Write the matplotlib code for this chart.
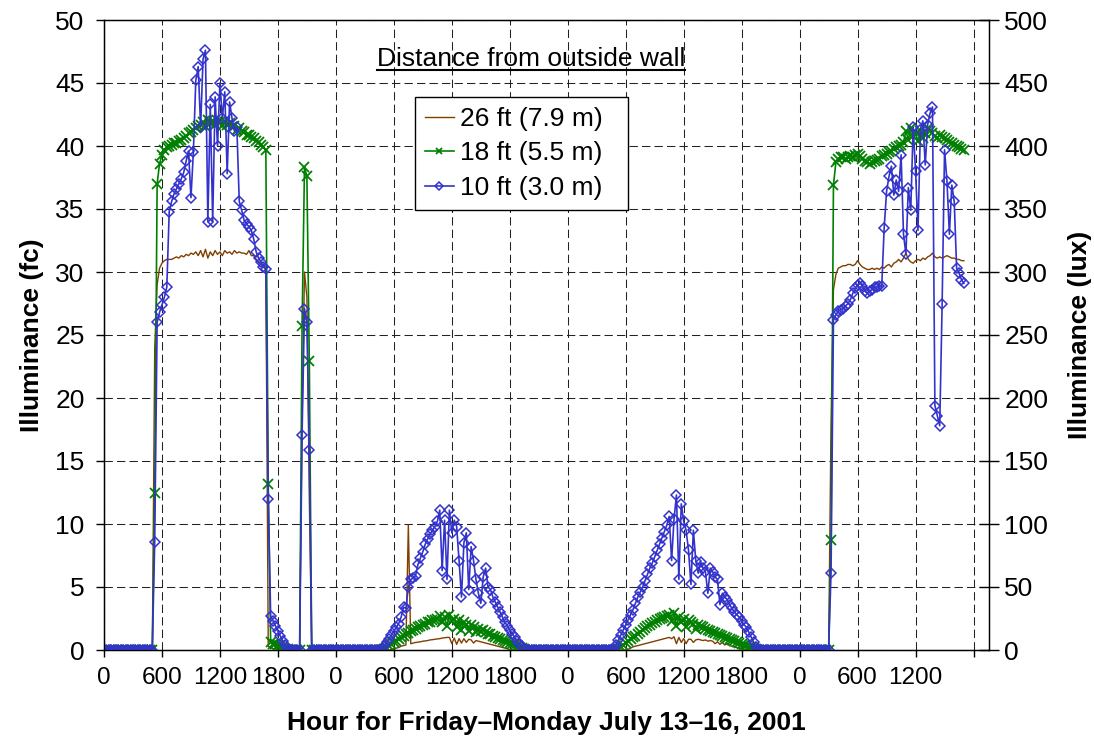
import numpy as np
import matplotlib
matplotlib.use('Agg')
import matplotlib.pyplot as plt
from matplotlib.lines import Line2D

plt.rcParams['font.family'] = ['Liberation Sans', 'DejaVu Sans']

# logger readings every 15 minutes, hour 0 = Friday 00:00
STEP = 0.25
LAST_HOUR = 89.0

# first hour of each stretch of non-zero readings (Fri day, Fri evening blip, Sat, Sun, Mon)
SEG_START = [5.0, 20.25, 28.5, 52.5, 75.0]

# ---- 26 ft (7.9 m), fc
ft26_fri = [0, 24.0, 29.0, 30.3, 30.7, 30.9, 31.0, 31.0,
            31.0, 31.1, 31.2, 31.1, 31.3, 31.2, 31.4, 31.3,
            31.5, 31.4, 31.6, 31.3, 31.7, 31.2, 31.8, 31.1,
            31.6, 31.3, 31.7, 31.4, 31.6, 31.3, 31.7, 31.5,
            31.6, 31.4, 31.7, 31.5, 31.6, 31.5, 31.5, 31.4,
            31.7, 31.3, 31.3, 31.0, 30.8, 30.6, 30.5, 30.4,
            0.3, 0.2, 0.1, 0.1, 0, 0, 0, 0,
            0, 0]
ft26_eve = [0, 18.0, 30.0, 28.0, 12.0, 0]
ft26_sat = [0, 0, 0, 0, 0, 0.05, 0.1, 0.15,
            0.2, 0.3, 0.35, 0.4, 9.9, 0.5, 0.55, 0.6,
            0.62, 0.65, 0.7, 0.72, 0.75, 0.8, 0.82, 0.85,
            0.88, 0.9, 0.95, 0.97, 1.0, 1.0, 0.5, 0.95,
            0.45, 0.9, 0.55, 0.9, 0.6, 0.85, 0.8, 0.55,
            0.75, 0.7, 0.65, 0.6, 0.55, 0.5, 0.45, 0.4,
            0.35, 0.3, 0.25, 0.2, 0.15, 0.1, 0.05, 0,
            0, 0, 0, 0, 0, 0, 0]
ft26_sun = [0, 0, 0, 0, 0, 0, 0, 0.05,
            0.15, 0.25, 0.3, 0.35, 0.4, 0.45, 0.5, 0.55,
            0.6, 0.65, 0.7, 0.75, 0.8, 0.85, 0.9, 0.95,
            1.0, 0.9, 1.05, 0.5, 1.0, 0.6, 0.9, 0.5,
            0.85, 0.85, 0.6, 0.8, 0.85, 0.8, 0.75, 0.8,
            0.7, 0.75, 0.7, 0.5, 0.65, 0.45, 0.6, 0.4,
            0.5, 0.35, 0.3, 0.25, 0.2, 0.15, 0.1, 0.05,
            0, 0, 0, 0, 0, 0, 0]
ft26_mon = [0, 18.0, 28.6, 29.8, 30.3, 30.4, 30.5, 30.5,
            30.6, 30.6, 30.5, 30.6, 30.9, 30.6, 30.4, 30.3,
            30.2, 30.2, 30.3, 30.2, 30.3, 30.2, 30.4, 30.3,
            30.5, 30.6, 30.4, 30.7, 30.8, 31.0, 30.8, 31.1,
            31.5, 31.0, 30.8, 30.7, 30.9, 31.0, 30.9, 31.1,
            31.0, 31.2, 31.3, 31.5, 31.2, 31.1, 31.2, 31.1,
            31.2, 31.3, 31.2, 31.1, 31.1, 31.0, 31.0, 30.9,
            30.9]

# ---- 18 ft (5.5 m), fc
ft18_fri = [0, 12.5, 37.0, 38.6, 39.3, 39.7, 39.9, 40.0,
            40.1, 40.2, 40.2, 40.4, 40.5, 40.6, 40.8, 41.0,
            41.1, 41.3, 41.4, 41.6, 41.7, 41.9, 41.6, 42.1,
            41.8, 42.0, 41.7, 42.0, 41.9, 41.6, 41.9, 41.7,
            41.8, 41.5, 41.6, 41.3, 41.4, 41.2, 41.1, 40.9,
            40.9, 40.7, 40.6, 40.4, 40.3, 40.1, 39.9, 39.7,
            13.2, 0.6, 0.5, 0.5, 0.4, 0.3, 0.2, 0.1,
            0.05, 0]
ft18_eve = [0, 25.7, 38.3, 37.6, 22.9, 0]
ft18_sat = [0, 0, 0.05, 0.15, 0.3, 0.45, 0.6, 0.75,
            0.9, 1.0, 1.15, 1.25, 1.35, 1.5, 1.6, 1.7,
            1.8, 1.9, 2.0, 2.1, 2.2, 2.25, 2.35, 2.4,
            2.5, 2.7, 2.2, 2.6, 1.9, 2.8, 2.3, 2.5,
            1.8, 2.4, 1.6, 2.2, 2.0, 1.5, 2.0, 1.8,
            1.4, 1.7, 1.5, 1.6, 1.4, 1.3, 1.25, 1.1,
            1.05, 0.95, 0.9, 0.8, 0.75, 0.65, 0.55, 0.45,
            0.4, 0.3, 0.2, 0.12, 0.05, 0, 0]
ft18_sun = [0, 0, 0, 0.1, 0.25, 0.4, 0.55, 0.7,
            0.85, 1.0, 1.15, 1.3, 1.45, 1.6, 1.75, 1.9,
            2.0, 2.15, 2.25, 2.35, 2.45, 2.55, 2.6, 2.7,
            2.8, 2.3, 2.9, 1.9, 2.6, 2.2, 2.5, 1.8,
            2.4, 2.2, 2.1, 1.7, 2.0, 1.9, 1.8, 1.7,
            1.6, 1.5, 1.45, 1.35, 1.3, 1.2, 1.1, 1.0,
            0.95, 0.85, 0.8, 0.7, 0.6, 0.55, 0.45, 0.4,
            0.3, 0.25, 0.2, 0.12, 0.06, 0.02, 0]
ft18_mon = [0, 8.7, 36.9, 38.7, 39.0, 39.1, 39.1, 39.0,
            39.1, 39.2, 39.1, 39.3, 39.4, 39.2, 39.0, 38.8,
            38.7, 38.6, 38.7, 38.8, 38.9, 39.0, 39.2, 39.3,
            39.4, 39.5, 39.6, 39.8, 39.9, 40.0, 40.1, 40.3,
            41.2, 40.5, 41.4, 40.8, 41.0, 40.4, 41.2, 40.6,
            41.0, 41.4, 41.2, 41.0, 40.8, 40.6, 40.9, 40.7,
            40.6, 40.5, 40.3, 40.2, 40.1, 40.0, 39.9, 39.8,
            39.7]

# ---- 10 ft (3.0 m), fc
ft10_fri = [0, 8.6, 26.0, 26.8, 27.4, 28.0, 28.8, 34.8,
            35.6, 36.2, 36.6, 37.0, 37.4, 37.9, 38.8, 39.6,
            35.9, 39.5, 45.2, 46.3, 41.5, 46.9, 47.6, 34.0,
            43.3, 34.0, 43.9, 40.0, 45.0, 42.2, 44.3, 37.8,
            43.5, 42.2, 41.2, 41.5, 35.6, 34.9, 34.1, 33.8,
            33.6, 33.3, 32.6, 31.6, 31.1, 30.8, 30.4, 30.2,
            12.0, 2.7, 2.3, 1.9, 1.5, 1.1, 0.7, 0.4,
            0.1, 0]
ft10_eve = [0, 17.1, 27.1, 26.0, 15.9, 0]
ft10_sat = [0, 0.1, 0.3, 0.6, 0.9, 1.2, 1.5, 1.8,
            2.1, 2.6, 3.4, 3.3, 5.0, 5.6, 5.7, 5.9,
            6.8, 7.3, 7.8, 8.4, 8.8, 9.2, 9.5, 9.8,
            10.2, 11.1, 6.3, 10.3, 5.6, 11.1, 9.3, 10.3,
            9.8, 7.1, 4.2, 8.5, 9.3, 4.8, 8.2, 7.1,
            5.6, 4.5, 3.7, 5.8, 6.5, 5.0, 4.8, 4.2,
            3.8, 3.4, 3.0, 2.6, 2.2, 1.9, 1.6, 1.3,
            1.0, 0.7, 0.5, 0.3, 0.1, 0, 0]
ft10_sun = [0, 0.1, 0.4, 0.8, 1.2, 1.6, 2.0, 2.4,
            2.8, 3.2, 3.7, 4.2, 4.6, 5.0, 5.5, 6.0,
            6.5, 6.9, 7.4, 7.9, 8.4, 8.9, 9.4, 9.9,
            10.6, 7.1, 10.4, 12.3, 5.6, 11.6, 10.2, 9.5,
            7.9, 5.2, 9.5, 7.1, 6.1, 7.0, 6.5, 6.2,
            4.5, 6.5, 6.2, 5.8, 5.6, 3.6, 4.5, 4.2,
            4.0, 3.6, 3.3, 3.0, 2.8, 2.6, 2.3, 2.0,
            1.8, 1.4, 1.0, 0.6, 0.2, 0, 0]
ft10_mon = [0, 6.1, 26.2, 26.6, 26.9, 27.0, 27.1, 27.3,
            27.5, 27.8, 28.3, 28.7, 29.0, 29.1, 28.9, 28.5,
            28.3, 28.5, 28.6, 28.8, 28.8, 28.9, 28.9, 33.5,
            36.4, 37.6, 38.4, 36.1, 37.3, 36.4, 39.3, 33.0,
            31.4, 36.7, 34.9, 41.5, 38.0, 33.3, 41.3, 42.0,
            38.5, 41.7, 42.6, 43.1, 19.4, 18.6, 17.8, 27.5,
            39.7, 37.2, 33.0, 36.9, 35.6, 30.3, 29.9, 29.4,
            29.1]

XTICK_LABELS = ['0', '600', '1200', '1800'] * 3 + ['0', '600', '1200', '']

BROWN = '#7f3f00'
GREEN = '#008000'
BLUE = '#3333cc'


def build(segments):
    # readings outside the listed stretches are zero (night)
    y = np.zeros(int(round(LAST_HOUR / STEP)) + 1)
    for start, vals in zip(SEG_START, segments):
        i = int(round(start / STEP))
        y[i:i + len(vals)] = vals
    return y


ft26 = build([ft26_fri, ft26_eve, ft26_sat, ft26_sun, ft26_mon])
ft18 = build([ft18_fri, ft18_eve, ft18_sat, ft18_sun, ft18_mon])
ft10 = build([ft10_fri, ft10_eve, ft10_sat, ft10_sun, ft10_mon])
hours = np.arange(len(ft26)) * STEP

fig = plt.figure(figsize=(10.94, 7.4), dpi=100)
ax = fig.add_axes([104 / 1094, 90 / 740, 885 / 1094, 630 / 740])

l26, = ax.plot(hours, ft26, color=BROWN, linewidth=1.0, zorder=3)
l18, = ax.plot(hours, ft18, color=GREEN, linewidth=1.2, marker='x', markersize=6.5,
               markeredgewidth=1.3, zorder=4)
l10, = ax.plot(hours, ft10, color=BLUE, linewidth=1.2, marker='D', markersize=5.3,
               markerfacecolor='none', markeredgewidth=1.1, zorder=5)

ax.set_xlim(0, 91.6)
ax.set_ylim(0, 50)
ax.set_xticks(np.arange(0, 91, 6))
ax.set_xticklabels(XTICK_LABELS)
ax.set_yticks(np.arange(0, 51, 5))
ax.grid(True, color='#222222', linestyle=(0, (8, 4)), linewidth=0.75, zorder=1)
ax.set_axisbelow(True)
ax.tick_params(axis='x', direction='out', length=5, width=1, labelsize=17.5, pad=7)
ax.tick_params(axis='y', direction='out', length=6, width=1, labelsize=19, pad=8)
for s in ax.spines.values():
    s.set_linewidth(1.0)

ax.set_xlabel('Hour for Friday\u2013Monday July 13\u201316, 2001', fontsize=19,
              fontweight='bold', labelpad=16)
ax.set_ylabel('Illuminance (fc)', fontsize=19, fontweight='bold', labelpad=8)

ax2 = ax.twinx()
ax2.set_ylim(0, 500)
ax2.set_yticks(np.arange(0, 501, 50))
ax2.tick_params(axis='y', direction='inout', length=14, width=1, labelsize=19, pad=4)
ax2.set_ylabel('Illuminance (lux)', fontsize=19, fontweight='bold', rotation=90,
               labelpad=14)

leg = ax.legend([l26, l18, l10], ['26 ft (7.9 m)  ', '18 ft (5.5 m)  ', '10 ft (3.0 m)  '],
                loc='upper left', bbox_to_anchor=(0.351, 0.878), borderaxespad=0,
                frameon=True, fancybox=False, edgecolor='black', framealpha=1,
                handlelength=1.1, handletextpad=0.25, labelspacing=0.4,
                borderpad=0.38, numpoints=1, prop={'size': 19})
leg.get_frame().set_linewidth(1.0)
leg.set_zorder(10)
for h in leg.legend_handles:
    h.set_markersize(4.5)

title = ax.text(0.4825, 0.927, 'Distance from outside wall', transform=ax.transAxes,
                ha='center', va='baseline', fontsize=19, zorder=10)

# underline the heading text
fig.canvas.draw()
bb = title.get_window_extent(fig.canvas.get_renderer())
base = ax.transAxes.transform((0, 0.927))[1]
inv = fig.transFigure.inverted()
(x0, yl), (x1, _) = inv.transform([(bb.x0, base - 4), (bb.x1, base - 4)])
fig.add_artist(Line2D([x0, x1], [yl, yl], color='black', linewidth=1.5))

fig.savefig('out.png', dpi=100)
